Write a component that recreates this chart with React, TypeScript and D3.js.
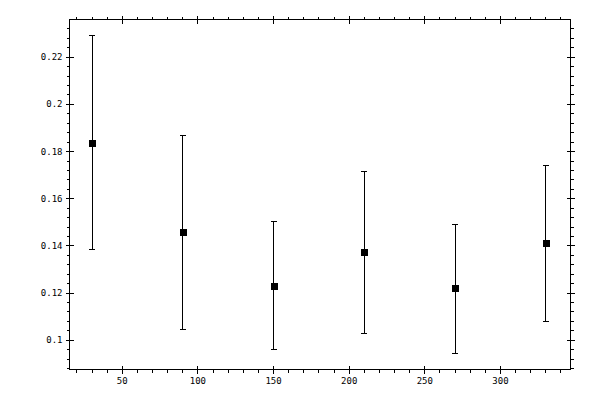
import * as d3 from "d3";

// chart values
const xs = [30, 90, 150, 210, 270, 330];
const means = [0.1835, 0.1458, 0.1232, 0.1373, 0.1220, 0.1411];
const upper = [0.2294, 0.1869, 0.1505, 0.1716, 0.1490, 0.1742];
const lower = [0.1386, 0.1047, 0.0961, 0.1029, 0.0944, 0.1079];

const xTicks = [50, 100, 150, 200, 250, 300];
const yTicks = [0.1, 0.12, 0.14, 0.16, 0.18, 0.2, 0.22];

const W = 600;
const H = 400;
const margin = { top: 19.5, right: 29.5, bottom: 30.5, left: 69.5 };

const x = d3.scaleLinear().domain([15.1, 346.3]).range([margin.left, W - margin.right]);
const y = d3.scaleLinear().domain([0.0876, 0.236]).range([H - margin.bottom, margin.top]);

const xMinor = d3.range(20, 346, 10).filter((v) => v % 50 !== 0);
const yMinor = d3.range(0.088, 0.236, 0.004).filter(
  (v) => !yTicks.some((t) => Math.abs(t - v) < 1e-6)
);

const fmt = (v: number) => String(+v.toFixed(2));

export default function App() {
  const x0 = x.range()[0];
  const x1 = x.range()[1];
  const y0 = y.range()[0];
  const y1 = y.range()[1];
  const font = "'DejaVu Sans Mono', monospace";
  return (
    <svg width={W} height={H} style={{ position: "absolute", left: 0, top: 0, background: "#fff" }}>
      <g stroke="#000" strokeWidth={1} shapeRendering="crispEdges">
        <rect x={x0} y={y1} width={x1 - x0} height={y0 - y1} fill="none" />
        {/* x ticks, bottom and top */}
        {xMinor.map((v) => (
          <g key={"xm" + v}>
            <line x1={x(v)} x2={x(v)} y1={y0} y2={y0 + 3} />
            <line x1={x(v)} x2={x(v)} y1={y1} y2={y1 - 3} />
          </g>
        ))}
        {xTicks.map((v) => (
          <g key={"xM" + v}>
            <line x1={x(v)} x2={x(v)} y1={y0 - 4} y2={y0 + 4} />
            <line x1={x(v)} x2={x(v)} y1={y1 - 4} y2={y1 + 4} />
          </g>
        ))}
        {/* y ticks, left and right */}
        {yMinor.map((v) => (
          <g key={"ym" + v}>
            <line x1={x0} x2={x0 - 3} y1={y(v)} y2={y(v)} />
            <line x1={x1} x2={x1 + 3} y1={y(v)} y2={y(v)} />
          </g>
        ))}
        {yTicks.map((v) => (
          <g key={"yM" + v}>
            <line x1={x0 - 4} x2={x0 + 4} y1={y(v)} y2={y(v)} />
            <line x1={x1 - 4} x2={x1 + 4} y1={y(v)} y2={y(v)} />
          </g>
        ))}
        {/* error bars */}
        {xs.map((v, i) => (
          <g key={"e" + v}>
            <line x1={x(v)} x2={x(v)} y1={y(upper[i])} y2={y(lower[i])} />
            <line x1={x(v) - 3} x2={x(v) + 3} y1={y(upper[i])} y2={y(upper[i])} />
            <line x1={x(v) - 3} x2={x(v) + 3} y1={y(lower[i])} y2={y(lower[i])} />
          </g>
        ))}
      </g>
      {xs.map((v, i) => (
        <rect
          key={"m" + v}
          x={Math.round(x(v)) - 3.5}
          y={Math.round(y(means[i])) - 3.5}
          width={7}
          height={7}
          fill="#000"
          shapeRendering="crispEdges"
        />
      ))}
      <g fontFamily={font} fontSize={9} fill="#000">
        {xTicks.map((v) => (
          <text key={"xl" + v} x={x(v)} y={y0 + 14} textAnchor="middle">
            {v}
          </text>
        ))}
        {yTicks.map((v) => (
          <text key={"yl" + v} x={x0 - 7} y={y(v) + 3} textAnchor="end">
            {fmt(v)}
          </text>
        ))}
      </g>
    </svg>
  );
}
